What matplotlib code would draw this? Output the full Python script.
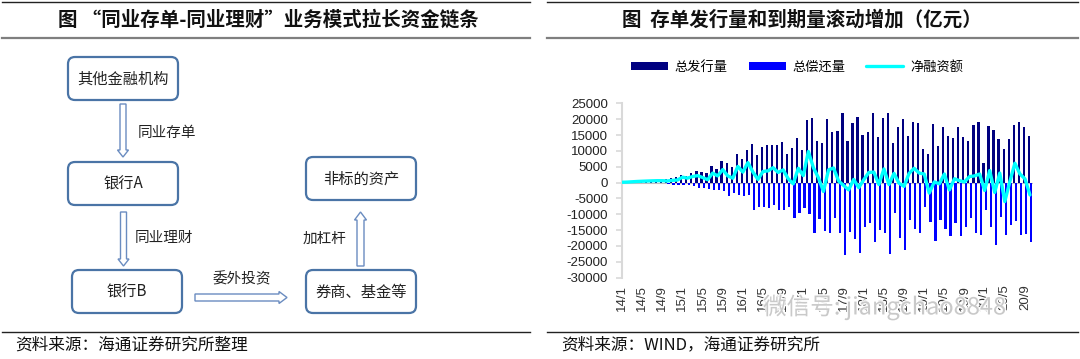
import matplotlib
matplotlib.use("Agg")
import matplotlib.pyplot as plt
from matplotlib.patches import FancyBboxPatch, FancyArrow
from matplotlib.ticker import FuncFormatter
import matplotlib.patheffects as pe
import numpy as np

plt.rcParams["font.family"] = ["Noto Sans CJK SC", "DejaVu Sans"]

W, H = 1080, 359

# ── Data (亿元), monthly from 14/1 ─────────────────────
months = [f"{y}/{m}" for y in range(14, 21) for m in range(1, 13)][:82]

issuance = [100, 150, 250, 350, 450, 550, 650, 750, 850,
            1000, 1400, 1700, 2400, 2100, 2900, 3800, 3400, 2900, 5300,
            4400, 6800, 6300, 4800, 9000, 7500, 10200, 12100, 8600, 11300,
            11800, 11700, 12000, 12800, 9000, 10900, 14000,
            10300, 19700, 20500, 13100, 12400, 20000, 15900, 16300, 21900,
            13200, 18900, 20700, 15000, 15800, 21900, 14300, 20300, 21900,
            12400, 17400, 20000, 14700, 19200, 18800, 10500, 9000, 18500,
            11400, 17400, 14700, 14000, 17400, 14300, 13200, 18100, 19200,
            6300, 17700, 16600, 13700, 10500, 13700, 18100, 19200, 17400,
            14700]

repayment = [0, 0, 0, 0, -30, -60, -100, -150, -250,
             -500, -700, -900, -700, -700, -1000, -1600, -1800, -2000,
             -2300, -2300, -2700, -4200, -3400, -3900, -4200, -3900, -8800,
             -7600, -7800, -8100, -7000, -8800, -8800, -7800, -11300,
             -9500, -8100, -9900, -15800, -11600, -15200, -16000, -11300,
             -15800, -22800, -15500, -17900, -22300, -14100, -12600, -18600,
             -14900, -16000, -22500, -9500, -17600, -21200, -11800, -14700,
             -15800, -7800, -12300, -18300, -11800, -14700, -17000, -12800,
             -16800, -14100, -11300, -16000, -16500, -8800, -13900, -19700,
             -10700, -16500, -13400, -12000, -16500, -16200, -18600]

net = np.array(issuance) + np.array(repayment)

series_names = ["总发行量", "总偿还量", "净融资额"]

flow_boxes = ["其他金融机构", "银行A", "银行B", "券商、基金等", "非标的资产"]
flow_labels = ["同业存单", "同业理财", "委外投资", "加杠杆"]

fig = plt.figure(figsize=(W / 100, H / 100), dpi=100)

# ── Background / decoration layer in pixel coords ─────
bg = fig.add_axes([0, 0, 1, 1])
bg.set_xlim(0, W)
bg.set_ylim(H, 0)
bg.axis("off")

for x0, x1, title, tx in [(2, 530, "图 “同业存单-同业理财”业务模式拉长资金链条", 268),
                          (547, 1078, "图  存单发行量和到期量滚动增加（亿元）", 802)]:
    bg.plot([x0, x1], [2, 2], color="#222222", lw=1)
    bg.plot([x0, x1], [38, 38], color="#7f7f7f", lw=1.6)
    bg.plot([x0, x1], [332, 332], color="#222222", lw=1)
    bg.text(tx, 20, title, ha="center", va="center", fontsize=14,
            fontweight="bold", color="#111111")

bg.text(15, 345, "资料来源：海通证券研究所整理", ha="left", va="center",
        fontsize=12, color="#111111")
bg.text(561, 345, "资料来源：WIND，海通证券研究所", ha="left", va="center",
        fontsize=12, color="#111111")

# flow diagram boxes
box_pos = [(68, 57), (68, 162), (72, 270), (306, 270), (306, 157)]
for (bx, by), name in zip(box_pos, flow_boxes):
    bg.add_patch(FancyBboxPatch((bx, by), 110, 43,
                                boxstyle="round,pad=0,rounding_size=7",
                                linewidth=1.6, edgecolor="#4a74a6",
                                facecolor="white"))
    bg.text(bx + 55, by + 22, name, ha="center", va="center",
            fontsize=11, color="#222222")

arrow_kw = dict(length_includes_head=True, facecolor="white",
                edgecolor="#6a8cc0", linewidth=1)
bg.add_patch(FancyArrow(123, 104, 0, 53, width=6, head_width=11,
                        head_length=7, **arrow_kw))
bg.add_patch(FancyArrow(123.5, 212, 0, 54, width=6, head_width=11,
                        head_length=7, **arrow_kw))
bg.add_patch(FancyArrow(195, 297.5, 92, 0, width=7, head_width=12,
                        head_length=8, **arrow_kw))
bg.add_patch(FancyArrow(360.5, 266, 0, -54, width=7, head_width=12,
                        head_length=8, **arrow_kw))

label_pos = [(138, 133), (135, 238), (213, 279), (303, 239)]
for (lx, ly), lab in zip(label_pos, flow_labels):
    bg.text(lx, ly, lab, ha="left", va="center", fontsize=10.5,
            color="#222222")

# ── Right chart ───────────────────────────────────────
ax = fig.add_axes([622 / W, 1 - 277.7 / H, (1033 - 622) / W,
                   (277.7 - 103.3) / H])
ax.patch.set_alpha(0)
x = np.arange(len(months))
ax.axhline(0, color="#bfbfbf", lw=0.8, zorder=0.5)
b1 = ax.bar(x - 0.23, issuance, width=0.44, color="#000080",
            label=series_names[0], zorder=2)
b2 = ax.bar(x + 0.23, repayment, width=0.44, color="#0000ff",
            label=series_names[1], zorder=2)
l1, = ax.plot(x, net, color="#00ffff", lw=2.4, solid_joinstyle="round",
              solid_capstyle="round", label=series_names[2], zorder=3)

ax.set_xlim(0, 81.6)
ax.set_ylim(-30000, 25000)
ax.set_yticks(np.arange(-30000, 25001, 5000))
ax.yaxis.set_major_formatter(FuncFormatter(lambda v, p: f"{int(v)}"))
ax.set_xticks(x[::4])
ax.set_xticklabels(months[::4], rotation=90, fontsize=9.5,
                   fontfamily="Liberation Sans", color="#333333")
for lab in ax.get_yticklabels():
    lab.set_fontfamily("Liberation Sans")
ax.tick_params(axis="y", labelsize=9.5, length=4, width=1.2,
               color="#d9d9d9", labelcolor="#222222", pad=6)
ax.tick_params(axis="x", length=0, pad=5)
for side in ["top", "right", "bottom"]:
    ax.spines[side].set_visible(False)
ax.spines["left"].set_color("#d9d9d9")
ax.spines["left"].set_linewidth(1.5)

ax.legend(handles=[b1, b2, l1], ncol=3, loc="center",
          bbox_to_anchor=(797 / W, 1 - 67 / H),
          bbox_transform=fig.transFigure, frameon=False, fontsize=9.5,
          handlelength=2.8, handleheight=0.55, handletextpad=0.5,
          columnspacing=1.6)

# watermark
fig.text(763 / W, 1 - 307 / H, "微信号: jiangchao8848", ha="left",
         va="center", fontsize=17, color="#c4c4c4", alpha=0.9,
         path_effects=[pe.withStroke(linewidth=2, foreground="white")])

fig.savefig("out.png", dpi=100)
